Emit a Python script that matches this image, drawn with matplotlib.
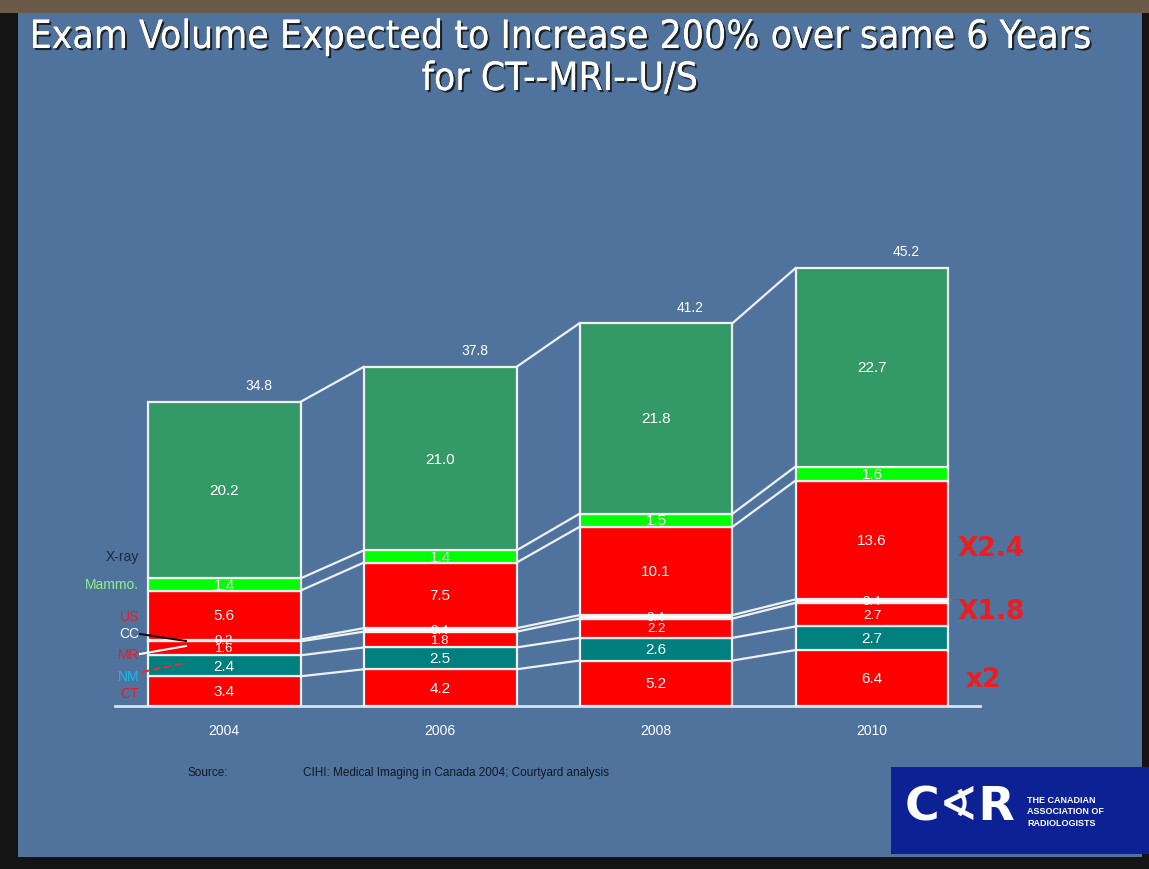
import matplotlib
matplotlib.use("Agg")
import matplotlib.pyplot as plt
import matplotlib.patheffects as pe
from matplotlib.patches import Rectangle
import numpy as np

# ---------------- data ----------------
years = ["2004", "2006", "2008", "2010"]
segments = ["CT", "NM", "MR", "CC", "US", "Mammo.", "X-ray"]
ct = [3.4, 4.2, 5.2, 6.4]
nm = [2.4, 2.5, 2.6, 2.7]
mr = [1.6, 1.8, 2.2, 2.7]
cc = [0.2, 0.4, 0.4, 0.4]
us = [5.6, 7.5, 10.1, 13.6]
mammo = [1.4, 1.4, 1.5, 1.6]
xray = [20.2, 21.0, 21.8, 22.7]
total_labels = ["34.8", "37.8", "41.2", "45.2"]
multipliers = ["X2.4", "X1.8", "x2"]

series = [ct, nm, mr, cc, us, mammo, xray]
colors = ["#ff0000", "#007f7f", "#ff0000", "#ffffff", "#ff0000", "#00ff00", "#339966"]

W, H = 1149, 870
fig = plt.figure(figsize=(W / 100, H / 100), dpi=100)
fig.patch.set_facecolor("#141414")

def fx(px):
    return px / W

def fy(py):
    return 1 - py / H

# slide background
fig.patches.append(Rectangle((fx(18), fy(858)), fx(1142 - 18), (858 - 14) / H,
                             transform=fig.transFigure, facecolor="#4f739d",
                             edgecolor="none", zorder=-10))
# brownish top strip
fig.patches.append(Rectangle((0, fy(14)), 1, 14 / H, transform=fig.transFigure,
                             facecolor="#6b5a48", edgecolor="none", zorder=-10))

# ---------------- axes ----------------
px_per_unit = 8.74
ymax = 55
ax_left, ax_right, base = 115, 980, 707
ax = fig.add_axes([fx(ax_left), fy(base), fx(ax_right - ax_left), ymax * px_per_unit / H])
ax.set_zorder(5)
ax.set_facecolor("none")
ax.set_ylim(0, ymax)
ax.set_xlim(-0.505, 3.5)
for s in ["top", "right", "left"]:
    ax.spines[s].set_visible(False)
ax.spines["bottom"].set_color("#d8e4ee")
ax.spines["bottom"].set_linewidth(2)
ax.set_yticks([])
x = np.arange(len(years))
ax.set_xticks(x)
ax.set_xticklabels(years, color="white", fontsize=10, family="Liberation Sans")
ax.tick_params(axis="x", length=0, pad=12)

width = 0.708
bottom = np.zeros(len(years))
bounds = [bottom.copy()]
for name, vals, col in zip(segments, series, colors):
    vals = np.array(vals)
    ax.bar(x, vals, width, bottom=bottom, color=col, edgecolor="#f0f0f0",
           linewidth=1.6, zorder=3)
    small = name in ("CC", "MR")
    for i, v in enumerate(vals):
        ax.text(x[i], bottom[i] + v / 2, f"{v:.1f}", ha="center", va="center",
                color="white", fontsize=9.5 if small else 11,
                family="Liberation Sans", zorder=5)
    bottom = bottom + vals
    bounds.append(bottom.copy())

# connector lines between bars
for b in bounds[1:]:
    for i in range(len(years) - 1):
        ax.plot([x[i] + width / 2, x[i + 1] - width / 2], [b[i], b[i + 1]],
                color="#eef2f6", lw=1.6, zorder=2)

# totals
for i, t in enumerate(total_labels):
    ax.annotate(t, (x[i] + 0.16, bottom[i]), xytext=(0, 12), textcoords="offset points",
                ha="center", va="center", color="white", fontsize=10,
                family="Liberation Sans")

# ---------------- left segment labels ----------------
left_labels = [("X-ray", 557, "#1e2a38"), ("Mammo.", 585, "#8cf08c"),
               ("US", 617, "#e0202a"), ("CC", 634, "#ffffff"),
               ("MR", 655, "#e0202a"), ("NM", 677, "#18b8f0"),
               ("CT", 694, "#e0202a")]
for txt, py, col in left_labels:
    fig.text(fx(139), fy(py), txt, ha="right", va="center", color=col,
             fontsize=10, family="Liberation Sans")
fig.add_artist(plt.Line2D([fx(140), fx(186)], [fy(635), fy(642)], color="#111111",
                          lw=1.5, transform=fig.transFigure, zorder=6))
fig.add_artist(plt.Line2D([fx(140), fx(186)], [fy(655), fy(647)], color="white",
                          lw=1.5, transform=fig.transFigure, zorder=6))
fig.add_artist(plt.Line2D([fx(142), fx(186)], [fy(673), fy(664)], color="#e03030",
                          lw=1.5, ls="--", transform=fig.transFigure, zorder=6))

# ---------------- multipliers ----------------
for txt, px, py in zip(multipliers, [958, 958, 966], [549, 612, 680]):
    fig.text(fx(px), fy(py), txt, ha="left", va="center", color="#ee1c1c",
             fontsize=19, fontweight="bold", family="DejaVu Sans")

# ---------------- title ----------------
shadow = [pe.withSimplePatchShadow(offset=(1.5, -1.5), shadow_rgbFace="#1a1a1a", alpha=0.9),
          pe.Normal()]
fig.text(fx(560), fy(38), "Exam Volume Expected to Increase 200% over same 6 Years",
         ha="center", va="center", color="white", fontsize=28, fontstretch="condensed",
         family="DejaVu Sans", path_effects=shadow)
fig.text(fx(560), fy(80), "for CT--MRI--U/S", ha="center", va="center", color="white",
         fontsize=28, fontstretch="condensed", family="DejaVu Sans", path_effects=shadow)

# ---------------- source ----------------
fig.text(fx(187), fy(773), "Source:", ha="left", va="center", color="#111820",
         fontsize=8.5, family="Liberation Sans")
fig.text(fx(303), fy(773), "CIHI: Medical Imaging in Canada 2004; Courtyard analysis",
         ha="left", va="center", color="#111820", fontsize=8.5, family="Liberation Sans")

# ---------------- logo ----------------
fig.patches.append(Rectangle((fx(891), fy(855)), fx(1149 - 891), 87 / H,
                             transform=fig.transFigure, facecolor="#0c2294",
                             edgecolor="none", zorder=1))
fig.text(fx(905), fy(808), "C\u2222R", ha="left", va="center", color="white",
         fontsize=34, family="DejaVu Sans", fontweight="bold")
fig.text(fx(1027), fy(812), "THE CANADIAN\nASSOCIATION OF\nRADIOLOGISTS",
         ha="left", va="center", color="white", fontsize=6.5, fontweight="bold",
         family="Liberation Sans", linespacing=1.3)

fig.savefig("out.png", dpi=100, facecolor=fig.get_facecolor())
